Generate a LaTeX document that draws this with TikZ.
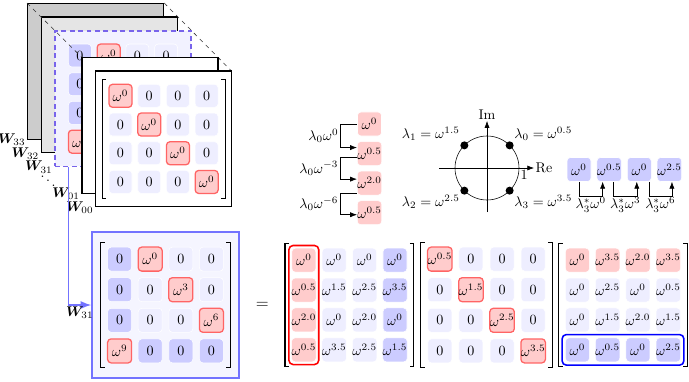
\documentclass[tikz,border=0pt]{standalone}
\usepackage{bm}
\usetikzlibrary{calc, positioning, arrows.meta, fit, matrix}
\definecolor{cellc}{RGB}{238,238,255}
\definecolor{cellb}{RGB}{204,204,255}
\definecolor{cellr}{RGB}{255,204,204}
\definecolor{edger}{RGB}{255,100,100}
\definecolor{boxb}{RGB}{115,115,255}
\definecolor{boxf}{RGB}{245,245,255}
\definecolor{dashv}{RGB}{120,100,235}
\definecolor{planef}{RGB}{242,242,255}

\begin{document}
\begin{tikzpicture}[
    x=0.025cm, y=-0.025cm,
    cell/.style={
        rounded corners=2.5pt, fill=cellc, draw=white, thin,
        minimum size=0.6cm, inner sep=0pt, anchor=center
      },
    rcell/.style={fill=cellr, draw=edger, line width=0.9pt},
    rfill/.style={fill=cellr},
    bcell/.style={fill=cellb},
    mat/.style={
        matrix of math nodes, nodes={cell},
        row sep=0.133cm, column sep=0.133cm,
        inner xsep=0.15cm, inner ysep=0.1cm
      },
    smallmat/.style={
        mat, nodes={minimum size=0.575cm},
        row sep=0.111cm, column sep=0.111cm
      },
    plane/.style={
        draw, thick, anchor=north west, inner sep=0pt,
        minimum width=3.4cm, minimum height=3.39cm
      },
    bigbox/.style={
        draw=boxb, fill=boxf, line width=1pt,
        minimum width=3.675cm, minimum height=3.65cm
      },
    wlab/.style={anchor=east, inner sep=1pt},
    lab/.style={inner sep=1pt},
    brk/.style={line width=0.8pt},
    guide/.style={dashed, black!80},
    link/.style={-Latex, draw=boxb, line width=1pt},
    hop/.style={-Latex},
    axis/.style={-Latex},
    dot/.style={circle, fill, inner sep=0pt, minimum size=0.2cm},
    colmark/.style={draw=red, line width=1.1pt, rounded corners=3pt, inner sep=0.06cm},
    rowmark/.style={draw=blue, line width=1.1pt, rounded corners=3pt, inner sep=0.075cm}
  ]
  \useasboundingbox (0,0) rectangle (689,381);

  % stack of weight planes
  \node[plane, fill=gray!40] (w33) at (27,3) {};
  \node[plane, fill=gray!20] (w32) at (40.6,16.5) {};
  \node[plane, draw=dashv, line width=1.1pt, dash pattern=on 3.5pt off 2.5pt, fill=planef] (w31) at (54.2,30) {};
  \matrix[smallmat] (w31m) at (w31.center) {
    |[bcell]| 0 & |[rcell]| \omega^0 & 0 & 0 \\
    |[bcell]| 0 & 0 & |[rcell]| \omega^3 & 0 \\
    |[bcell]| 0 & 0 & 0 & |[rcell]| \omega^6 \\
    |[rcell]| \omega^9 & |[bcell]| 0 & |[bcell]| 0 & |[bcell]| 0 \\
  };

  \coordinate (front) at (95,70.5);
  \draw[guide] (w33.north west) -- (front);
  \draw[guide] (w33.north east) -- ($(front)+(136,0)$);

  \node[plane, fill=white] (w01) at (81.4,57) {};
  \node[plane, fill=white] (w00) at (front) {};
  \matrix[smallmat] (w00m) at (w00.center) {
    |[rcell]| \omega^0 & 0 & 0 & 0 \\
    0 & |[rcell]| \omega^0 & 0 & 0 \\
    0 & 0 & |[rcell]| \omega^0 & 0 \\
    0 & 0 & 0 & |[rcell]| \omega^0 \\
  };

  \node[wlab] (l33) at (w33.south west) {$\bm{W}_{33}$};
  \node[wlab] (l32) at (w32.south west) {$\bm{W}_{32}$};
  \node[wlab] (l31) at (w31.south west) {$\bm{W}_{31}$};
  \node[inner sep=0pt] (skip) at (48,177) {$\ddots$};
  \node[wlab] (l01) at (w01.south west) {$\bm{W}_{01}$};
  \node[wlab] (l00) at (w00.south west) {$\bm{W}_{00}$};

  % enlarged W31 and its factors
  \node[bigbox] (bigbox) at (165.5,305) {};
  \draw[link] ([xshift=0.35cm]w31.south west) |- node[pos=0.75, below, lab] {$\bm{W}_{31}$} (bigbox.west);
  \matrix[mat] (bigm) at (bigbox.center) {
    |[bcell]| 0 & |[rcell]| \omega^0 & 0 & 0 \\
    |[bcell]| 0 & 0 & |[rcell]| \omega^3 & 0 \\
    |[bcell]| 0 & 0 & 0 & |[rcell]| \omega^6 \\
    |[rcell]| \omega^9 & |[bcell]| 0 & |[bcell]| 0 & |[bcell]| 0 \\
  };

  \matrix[mat] (res1) at (349.4,305) {
    |[rfill]| \omega^0 & \omega^0 & \omega^0 & |[bcell]| \omega^0 \\
    |[rfill]| \omega^{0.5} & \omega^{1.5} & \omega^{2.5} & |[bcell]| \omega^{3.5} \\
    |[rfill]| \omega^{2.0} & \omega^0 & \omega^{2.0} & |[bcell]| \omega^0 \\
    |[rfill]| \omega^{0.5} & \omega^{3.5} & \omega^{2.5} & |[bcell]| \omega^{1.5} \\
  };
  \node[font=\large] (eq) at ($(bigbox.east)!0.5!(res1.west)$) {$=$};

  \matrix[mat] (res2) at (486.5,305) {
    |[rcell]| \omega^{0.5} & 0 & 0 & 0 \\
    0 & |[rcell]| \omega^{1.5} & 0 & 0 \\
    0 & 0 & |[rcell]| \omega^{2.5} & 0 \\
    0 & 0 & 0 & |[rcell]| \omega^{3.5} \\
  };

  \matrix[mat] (res3) at (623,305) {
    |[rfill]| \omega^0 & |[rfill]| \omega^{3.5} & |[rfill]| \omega^{2.0} & |[rfill]| \omega^{3.5} \\
    \omega^0 & \omega^{2.5} & \omega^0 & \omega^{0.5} \\
    \omega^0 & \omega^{1.5} & \omega^{2.0} & \omega^{1.5} \\
    |[bcell]| \omega^0 & |[bcell]| \omega^{0.5} & |[bcell]| \omega^0 & |[bcell]| \omega^{2.5} \\
  };

  \foreach \m in {w00m, bigm, res1, res2, res3} {
    \draw[brk] ([xshift=0.1cm]\m.north west) -| (\m.south west) -- ++(4,0);
    \draw[brk] ([xshift=-0.1cm]\m.north east) -| (\m.south east) -- ++(-4,0);
  }

  \node[colmark, fit=(res1-1-1)(res1-4-1)] (firstcol) {};
  \node[rowmark, fit=(res3-4-1)(res3-4-4)] (lastrow) {};

  % column update steps
  \node[cell, rfill] (r0) at (369.5,124) {$\omega^0$};
  \node[cell, rfill, below=0.125cm of r0] (r1) {$\omega^{0.5}$};
  \node[cell, rfill, below=0.125cm of r1] (r2) {$\omega^{2.0}$};
  \node[cell, rfill, below=0.125cm of r2] (r3) {$\omega^{0.5}$};

  \draw[hop] (r0.west) -- ++(-17,0) |- node[pos=0.25, left, lab] {$\lambda_0\omega^0$} ([yshift=0.15cm]r1.west);
  \draw[hop] ([yshift=-0.1cm]r1.west) -- ++(-17,0) |- node[pos=0.25, left, lab] {$\lambda_0\omega^{-3}$} ([yshift=0.1cm]r2.west);
  \draw[hop] ([yshift=-0.25cm]r2.west) -- ++(-17,0) |- node[pos=0.25, left, lab] {$\lambda_0\omega^{-6}$} ([yshift=-0.05cm]r3.west);

  % eigenvalues on the unit circle
  \coordinate (o) at (487,168);
  \coordinate (xl) at (439,168);
  \coordinate (xr) at (534,168);
  \coordinate (yb) at (487,212);
  \coordinate (yt) at (487,121);
  \draw (o) circle[radius=0.8cm];
  \draw[axis] (xl) -- (xr) node[right, lab] (re) {Re};
  \draw[axis] (yb) -- (yt) node[above, lab] (im) {Im};
  \node[lab, anchor=north west] (one) at ($(o)+(0.8cm,0)$) {1};

  \node[dot] (e0) at ($(o)+(45:0.8cm)$) {};
  \node[dot] (e1) at ($(o)+(135:0.8cm)$) {};
  \node[dot] (e2) at ($(o)+(225:0.8cm)$) {};
  \node[dot] (e3) at ($(o)+(315:0.8cm)$) {};
  \node[lab, anchor=south west] (t0) at (e0.north east) {$\lambda_0 = \omega^{0.5}$};
  \node[lab, anchor=south east] (t1) at (e1.north west) {$\lambda_1 = \omega^{1.5}$};
  \node[lab, anchor=north east] (t2) at (e2.south west) {$\lambda_2 = \omega^{2.5}$};
  \node[lab, anchor=north west] (t3) at (e3.south east) {$\lambda_3 = \omega^{3.5}$};

  % row update steps
  \node[cell, bcell] (b0) at (579,169.5) {$\omega^0$};
  \node[cell, bcell, right=0.133cm of b0] (b1) {$\omega^{0.5}$};
  \node[cell, bcell, right=0.133cm of b1] (b2) {$\omega^0$};
  \node[cell, bcell, right=0.133cm of b2] (b3) {$\omega^{2.5}$};

  \draw[hop] (b0.south) -- ++(0,14) -| node[pos=0.25, below, lab] {$\lambda_3^*\omega^0$} ([xshift=-0.1625cm]b1.south);
  \draw[hop] ([xshift=0.1125cm]b1.south) -- ++(0,14) -| node[pos=0.25, below, lab] {$\lambda_3^*\omega^3$} ([xshift=-0.0625cm]b2.south);
  \draw[hop] ([xshift=0.2375cm]b2.south) -- ++(0,14) -| node[pos=0.25, below, lab] {$\lambda_3^*\omega^6$} ([xshift=0.0625cm]b3.south);

\end{tikzpicture}
\end{document}
